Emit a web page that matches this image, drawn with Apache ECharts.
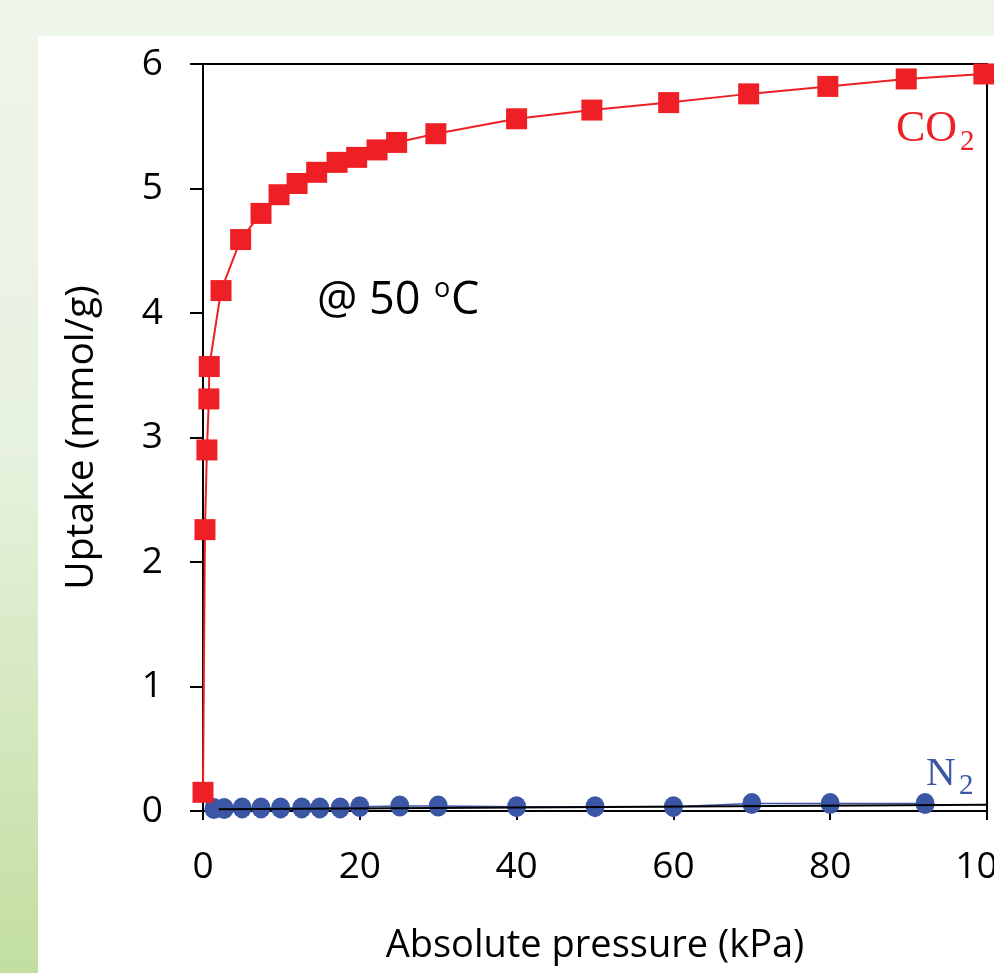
<!DOCTYPE html>
<html>
<head>
<meta charset="utf-8">
<script src="https://cdn.jsdelivr.net/npm/echarts@6/dist/echarts.min.js"></script>
<style>
  html, body { margin: 0; padding: 0; }
  #chart { width: 994px; height: 973px; }
</style>
</head>
<body>
<div id="chart"></div>
<script>
// CO2 uptake at 50 C (kPa, mmol/g)
const co2P = [0, 0.25, 0.5, 0.75, 0.8, 2.3, 4.8, 7.4, 9.7, 12, 14.5, 17.1, 19.6, 22.2, 24.7, 29.7, 40, 49.6, 59.4, 69.6, 79.7, 89.7, 99.6];
const co2Q = [0.15, 2.26, 2.9, 3.31, 3.57, 4.18, 4.59, 4.8, 4.95, 5.04, 5.13, 5.21, 5.25, 5.31, 5.37, 5.44, 5.56, 5.63, 5.69, 5.76, 5.82, 5.88, 5.92];

// N2 uptake
const n2P = [1.4, 2.7, 5.0, 7.4, 9.9, 12.6, 14.9, 17.5, 20, 25.1, 30, 40, 50, 60, 70, 80, 92.1];
const n2Q = [0.02, 0.02, 0.025, 0.025, 0.025, 0.025, 0.025, 0.025, 0.035, 0.04, 0.04, 0.035, 0.035, 0.035, 0.06, 0.06, 0.06];

// black trend line over N2
const fitP = [2, 100];
const fitQ = [0.015, 0.05];

const xTicks = [0, 20, 40, 60, 80, 100];
const yTicks = [0, 1, 2, 3, 4, 5, 6];

const pair = (xs, ys) => xs.map((x, i) => [x, ys[i]]);

const chart = echarts.init(document.getElementById("chart"));
const font = "'Open Sans', sans-serif";

chart.setOption({
  animation: false,
  backgroundColor: "#ffffff",
  graphic: [
    {
      type: "rect",
      z: -10,
      shape: { x: 0, y: 0, width: 994, height: 973 },
      style: {
        fill: new echarts.graphic.LinearGradient(0, 0, 0, 1, [
          { offset: 0, color: "#eef5ea" },
          { offset: 0.45, color: "#e8f2e0" },
          { offset: 1, color: "#c2dea0" },
        ]),
      },
    },
    {
      type: "rect",
      z: -9,
      shape: { x: 38, y: 36, width: 956, height: 937 },
      style: { fill: "#ffffff" },
    },
    {
      type: "text",
      left: 317,
      top: 279,
      style: { text: "@ 50", font: "45px " + font, fill: "#000" },
    },
    {
      type: "text",
      left: 434,
      top: 276,
      style: { text: "o", font: "27px " + font, fill: "#000" },
    },
    {
      type: "text",
      left: 451,
      top: 279,
      style: { text: "C", font: "45px " + font, fill: "#000" },
    },
    {
      type: "text",
      left: 896,
      top: 107,
      style: { text: "CO", font: "44px 'Liberation Serif', serif", fill: "#ee1f25" },
    },
    {
      type: "text",
      left: 960,
      top: 128,
      style: { text: "2", font: "29px 'Liberation Serif', serif", fill: "#ee1f25" },
    },
    {
      type: "text",
      left: 926,
      top: 754,
      style: { text: "N", font: "41px 'Liberation Serif', serif", fill: "#3a56a5" },
    },
    {
      type: "text",
      left: 959,
      top: 772,
      style: { text: "2", font: "29px 'Liberation Serif', serif", fill: "#3a56a5" },
    },
  ],
  grid: {
    left: 203,
    right: 7,
    top: 64,
    bottom: 162,
    containLabel: false,
    outerBoundsMode: "none",
    show: true,
    borderColor: "#000",
    borderWidth: 2,
    backgroundColor: "transparent",
  },
  xAxis: {
    type: "value",
    min: 0,
    max: 100,
    interval: 20,
    name: "Absolute pressure (kPa)",
    nameLocation: "middle",
    nameGap: 116,
    nameTextStyle: { fontFamily: font, fontSize: 38, color: "#000" },
    axisLine: { lineStyle: { color: "#000", width: 2 } },
    axisTick: { inside: false, length: 9, lineStyle: { color: "#000", width: 2 } },
    axisLabel: {
      margin: 38,
      fontFamily: font,
      fontSize: 37,
      color: "#000",
      hideOverlap: false,
      formatter: (v) => (xTicks.includes(v) ? String(v) : ""),
    },
    splitLine: { show: false },
  },
  yAxis: {
    type: "value",
    min: 0,
    max: 6,
    interval: 1,
    name: "Uptake (mmol/g)",
    nameLocation: "middle",
    nameGap: 102,
    nameTextStyle: { fontFamily: font, fontSize: 39, color: "#000" },
    axisLine: { lineStyle: { color: "#000", width: 2 } },
    axisTick: { inside: false, length: 13, lineStyle: { color: "#000", width: 2 } },
    axisLabel: {
      margin: 40,
      fontFamily: font,
      fontSize: 37,
      color: "#000",
      formatter: (v) => (yTicks.includes(v) ? String(v) : ""),
    },
    splitLine: { show: false },
  },
  series: [
    {
      name: "N2",
      type: "line",
      data: pair(n2P, n2Q),
      symbol: "circle",
      symbolSize: [19, 21],
      itemStyle: { color: "#3a56a5" },
      lineStyle: { color: "#3a56a5", width: 1.5 },
      z: 3,
    },
    {
      name: "N2 fit",
      type: "line",
      data: pair(fitP, fitQ),
      showSymbol: false,
      lineStyle: { color: "#000", width: 2 },
      z: 4,
    },
    {
      name: "CO2",
      type: "line",
      data: pair(co2P, co2Q),
      symbol: "rect",
      symbolSize: 21,
      itemStyle: { color: "#ee1f25" },
      lineStyle: { color: "#ee1f25", width: 2 },
      clip: false,
      z: 5,
    },
  ],
});
</script>
</body>
</html>
